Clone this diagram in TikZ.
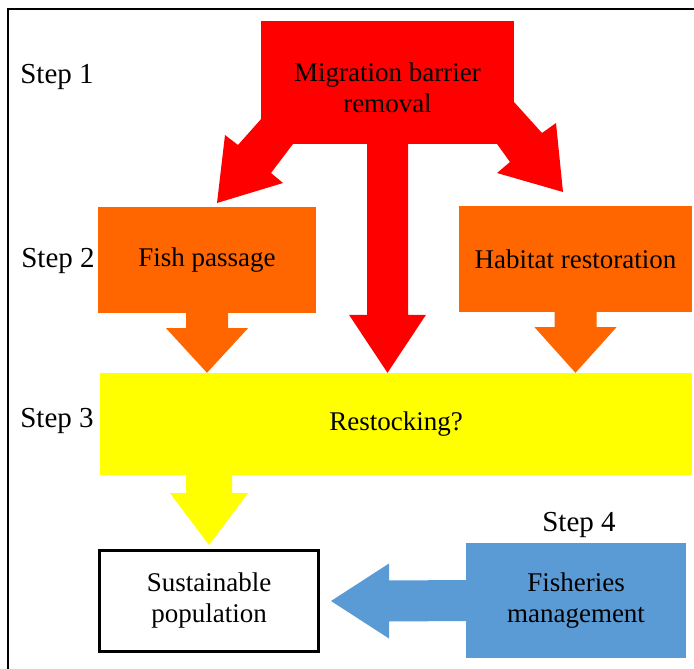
\documentclass[tikz,border=0pt]{standalone}
\usepackage{fontspec}
\setmainfont{Liberation Serif}
\usetikzlibrary{calc}
\definecolor{barrierred}{HTML}{FF0000}
\definecolor{passorange}{HTML}{FF6600}
\definecolor{stockyellow}{HTML}{FFFF00}
\definecolor{manageblue}{HTML}{5B9BD5}

\begin{document}
\begin{tikzpicture}
        [x=1pt,y=-1pt,every node/.style={shape=rectangle,inner sep=0,align=center,font=\fontsize{27}{31}\selectfont},
        steplabel/.style={font=\fontsize{29}{33}\selectfont}]

        \useasboundingbox (0,0) rectangle (694,669);
        \draw[line width=1.6pt] (8,669) -- (8,9) -- (694,9);

        \node[fill=barrierred,minimum width=253pt,minimum height=123pt] (barrier) at (387.5,82.5) {};
        \node (barriertext) at (387.5,87.5) {Migration barrier\\removal};
        \node[fill=passorange,minimum width=218pt,minimum height=106pt] (fish) at (207,260) {Fish passage};
        \node[fill=passorange,minimum width=233pt,minimum height=106pt] (habitat) at (575.5,259) {Habitat restoration};
        \node[fill=stockyellow,minimum width=592pt,minimum height=102pt] (restock) at (396,424) {Restocking?};
        \node[draw,line width=3pt,fill=white,minimum width=219pt,minimum height=101pt] (pop) at (209,601) {Sustainable\\population};
        \node[fill=manageblue,minimum width=220pt,minimum height=115pt] (mgmt) at (576,600.5) {Fisheries\\management};

        \node[steplabel] (s1) at (57,77) {Step 1};
        \node[steplabel] (s2) at (58,261) {Step 2};
        \node[steplabel] (s3) at (57,421) {Step 3};
        \node[steplabel] (s4) at (579,525) {Step 4};

        \coordinate (tipL) at (217,203);
        \coordinate (tipR) at (563,192);
        \coordinate (tipC) at (barrier.south |- restock.north);
        \coordinate (tipY) at ($(pop.north)+(0,-4)$);
        \coordinate (tipB) at ($(pop.east)+(11,0)$);

        % step 1 -> step 2 and step 3
        \fill[barrierred] ($(barrier.south west)+(1,-26)$) -- ($(tipL)+(21,-58)$) -- ($(tipL)+(8,-68)$) -- (tipL)
          -- ($(tipL)+(66,-20)$) -- ($(tipL)+(54,-30)$) -- ($(barrier.south west)+(32,0)$) -- cycle;
        \fill[barrierred] ($(barrier.south east)+(0,-42)$) -- ($(tipR)+(-21,-59)$) -- ($(tipR)+(-7,-69)$) -- (tipR)
          -- ($(tipR)+(-66,-19)$) -- ($(tipR)+(-53,-30)$) -- ($(barrier.south east)+(-17,0)$) -- cycle;
        \fill[barrierred] ($(barrier.south)+(-20.5,0)$) -- ($(tipC)+(-20.5,-58)$) -- ++(-18,0) -- (tipC)
          -- ($(tipC)+(38.5,-58)$) -- ++(-18,0) -- ($(barrier.south)+(20.5,0)$) -- cycle;

        % step 2 -> step 3
        \fill[passorange] ($(fish.south)+(-21,0)$) -- ++(0,15) -- ++(-20,0) -- (fish.south |- restock.north)
          -- ($(fish.south)+(41,15)$) -- ++(-20,0) -- ++(0,-15) -- cycle;
        \fill[passorange] ($(habitat.south)+(-21,0)$) -- ++(0,15) -- ++(-20,0) -- (habitat.south |- restock.north)
          -- ($(habitat.south)+(41,15)$) -- ++(-20,0) -- ++(0,-15) -- cycle;

        % step 3 -> population
        \fill[stockyellow] ($(pop.north |- restock.south)+(-23,0)$) -- ++(0,18) -- ++(-16,0) -- (tipY)
          -- ($(pop.north |- restock.south)+(39,18)$) -- ++(-16,0) -- ++(0,-18) -- cycle;

        % step 4 -> population
        \fill[manageblue] ($(mgmt.west)+(0,-20.5)$) -- ($(tipB)+(58,-20.5)$) -- ++(0,-17) -- (tipB)
          -- ($(tipB)+(58,37.5)$) -- ++(0,-17) -- ($(mgmt.west)+(0,20.5)$) -- cycle;

      \end{tikzpicture}
\end{document}
